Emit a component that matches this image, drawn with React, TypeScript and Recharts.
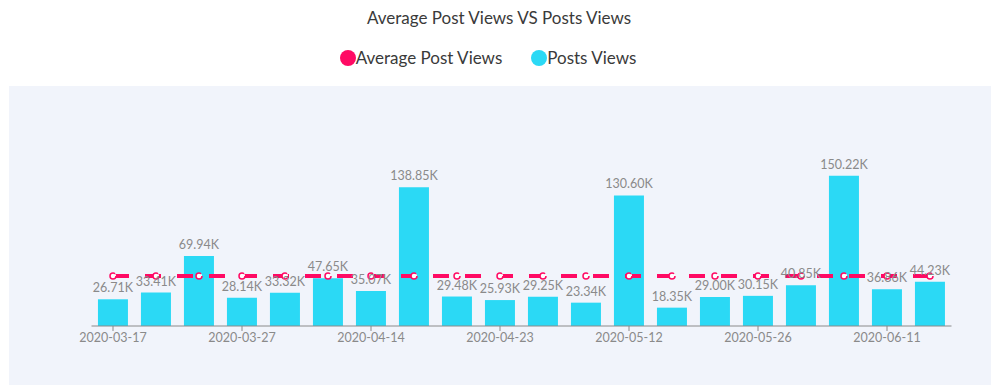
import React from 'react';
import { ComposedChart, Bar, Line, XAxis, YAxis, LabelList } from 'recharts';

const categories = [
  '2020-03-17', '2020-03-20', '2020-03-24', '2020-03-27', '2020-03-31',
  '2020-04-07', '2020-04-14', '2020-04-17', '2020-04-20', '2020-04-23',
  '2020-04-28', '2020-05-05', '2020-05-12', '2020-05-15', '2020-05-19',
  '2020-05-26', '2020-06-02', '2020-06-05', '2020-06-11', '2020-06-16',
];

const postsViews = [
  26.71, 33.41, 69.94, 28.14, 33.32, 47.65, 35.07, 138.85, 29.48, 25.93,
  29.25, 23.34, 130.6, 18.35, 29.0, 30.15, 40.85, 150.22, 36.86, 44.23,
];

const averageViews = [
  50.07, 50.07, 50.07, 50.07, 50.07, 50.07, 50.07, 50.07, 50.07, 50.07,
  50.07, 50.07, 50.07, 50.07, 50.07, 50.07, 50.07, 50.07, 50.07, 50.07,
];

const title = 'Average Post Views VS Posts Views';
const seriesNames = ['Average Post Views', 'Posts Views'];

const PINK = '#ff0a64';
const CYAN = '#2bd9f5';
const FONT = 'Lato, "Open Sans", sans-serif';

const data = categories.map((c, i) => ({
  date: c,
  posts: postsViews[i],
  avg: averageViews[i],
}));

const LegendItem = ({ color, label }: { color: string; label: string }) => (
  <div style={{ display: 'flex', alignItems: 'center' }}>
    <div style={{ width: 16, height: 16, borderRadius: '50%', background: color }} />
    <span style={{ fontSize: 17, color: '#3a3a3a', marginLeft: 0 }}>{label}</span>
  </div>
);

export default function App() {
  return (
    <div style={{ position: 'absolute', left: 0, top: 0, width: 998, height: 391, background: '#fff', fontFamily: FONT }}>
      <div style={{ position: 'absolute', left: 0, top: 7, width: 998, textAlign: 'center', fontSize: 17, color: '#3a3a3a' }}>
        {title}
      </div>
      <div style={{ position: 'absolute', left: -11, top: 47, width: 998, display: 'flex', justifyContent: 'center', gap: 29 }}>
        <LegendItem color={PINK} label={seriesNames[0]} />
        <LegendItem color={CYAN} label={seriesNames[1]} />
      </div>
      <div style={{ position: 'absolute', left: 9, top: 86, width: 982, height: 299, background: '#f1f4fb' }} />
      <div style={{ position: 'absolute', left: 0, top: 0 }}>
        <ComposedChart
          width={998}
          height={391}
          data={data}
          margin={{ top: 126, right: 46.5, left: 91.5, bottom: 35 }}
          barCategoryGap="15%"
        >
          <XAxis
            dataKey="date"
            interval={2}
            height={30}
            tickSize={5}
            stroke="#8a8a8a"
            axisLine={{ stroke: '#8a8a8a' }}
            tickLine={{ stroke: '#8a8a8a' }}
            tick={{ fill: '#8a8a8a', fontSize: 12.5, fontFamily: FONT }}
          />
          <YAxis hide domain={[0, 200]} />
          <Bar dataKey="posts" name={seriesNames[1]} fill={CYAN} isAnimationActive={false}>
            <LabelList
              dataKey="posts"
              position="top"
              offset={7}
              formatter={(v: number) => `${v.toFixed(2)}K`}
              style={{ fill: '#8a8a8a', fontSize: 12.5, fontFamily: FONT }}
            />
          </Bar>
          <Line
            dataKey="avg"
            name={seriesNames[0]}
            stroke={PINK}
            strokeWidth={4}
            strokeDasharray="16 16"
            dot={{ r: 3, fill: '#fff', stroke: PINK, strokeWidth: 1.5 }}
            isAnimationActive={false}
          />
        </ComposedChart>
      </div>
    </div>
  );
}
